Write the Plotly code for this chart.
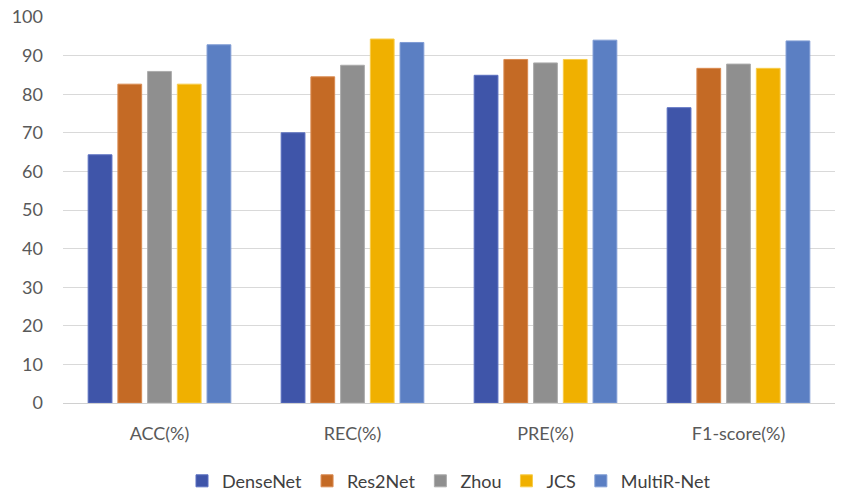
import plotly.graph_objects as go

categories = ["ACC(%)", "REC(%)", "PRE(%)", "F1-score(%)"]
densenet = [64.3, 70.0, 84.9, 76.5]
res2net = [82.6, 84.5, 89.0, 86.7]
zhou = [85.9, 87.5, 88.1, 87.8]
jcs = [82.6, 94.3, 89.0, 86.7]
multir_net = [92.8, 93.4, 94.0, 93.8]

series = [
    ("DenseNet", densenet, "#3F55A9", "#5A6FC0"),
    ("Res2Net", res2net, "#C46A25", "#DA8A50"),
    ("Zhou", zhou, "#8F8F8F", "#ABABAB"),
    ("JCS", jcs, "#F0B000", "#F7CC4A"),
    ("MultiR-Net", multir_net, "#5B7FC3", "#7F9CD4"),
]

fig = go.Figure()
for name, vals, color, edge in series:
    fig.add_trace(go.Bar(
        name=name, x=categories, y=vals,
        marker=dict(color=color, line=dict(color=edge, width=1)),
    ))

font = "Lato, Noto Sans, sans-serif"
fig.update_layout(
    width=841, height=496,
    margin=dict(l=63, r=6, t=17, b=93, autoexpand=False),
    plot_bgcolor="white", paper_bgcolor="white",
    barmode="group", bargap=0.23, bargroupgap=0.2,
    font=dict(family=font, size=18, color="#595959"),
    legend=dict(orientation="h", x=0.5, xanchor="center",
                yref="container", y=0.03, yanchor="middle",
                font=dict(size=18, color="#404040"), itemwidth=30,
                traceorder="normal"),
    xaxis=dict(showline=True, linecolor="#D0D0D0", linewidth=1, ticks="",
               tickfont=dict(size=18, color="#595959"), ticklabelstandoff=14,
               automargin=False),
    yaxis=dict(range=[0, 100], dtick=10, showgrid=True, gridcolor="#D9D9D9",
               gridwidth=1, zeroline=False, showline=False, ticks="",
               tickfont=dict(size=18, color="#595959"), ticklabelstandoff=19,
               automargin=False),
)

fig.write_html("out.html")
